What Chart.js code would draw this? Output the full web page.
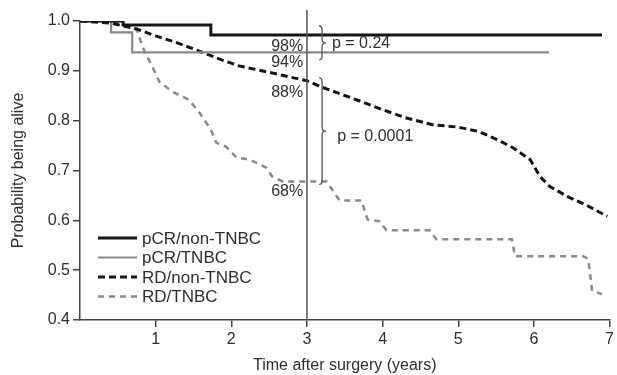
<!DOCTYPE html>
<html>
<head>
<meta charset="utf-8">
<script src="https://cdn.jsdelivr.net/npm/chart.js@4/dist/chart.umd.min.js"></script>
<style>
  html, body { margin: 0; padding: 0; background: #fff; }
  #km { display: block; }
</style>
</head>
<body>
<canvas id="km" width="617" height="375"></canvas>
<script>
// series labels
const seriesNames = ["pCR/non-TNBC", "pCR/TNBC", "RD/non-TNBC", "RD/TNBC"];

// pCR/non-TNBC (step curve)
const pcrNonT_x = [0, 0.57, 1.73, 6.9];
const pcrNonT_y = [1.0, 0.992, 0.972, 0.972];

// pCR/TNBC (step curve)
const pcrT_x = [0, 0.41, 0.69, 6.2];
const pcrT_y = [1.0, 0.977, 0.937, 0.937];

// RD/non-TNBC
const rdNonT_x = [0, 0.4, 0.75, 1.0, 1.25, 1.5, 1.87, 2.1, 2.5, 3.0, 3.2, 3.6, 4.0, 4.3, 4.66, 5.0, 5.28, 5.5, 5.72, 5.95, 6.08, 6.21, 6.44, 6.7, 6.97];
const rdNonT_y = [1.0, 0.996, 0.984, 0.97, 0.958, 0.944, 0.922, 0.91, 0.897, 0.88, 0.867, 0.845, 0.822, 0.806, 0.792, 0.787, 0.778, 0.763, 0.746, 0.722, 0.688, 0.668, 0.648, 0.63, 0.608];

// RD/TNBC
const rdT_x = [0, 0.4, 0.65, 0.75, 0.85, 0.95, 1.05, 1.22, 1.44, 1.58, 1.73, 1.8, 1.93, 2.07, 2.24, 2.46, 2.54, 2.68, 3.26, 3.43, 3.72, 3.8, 3.96, 4.05, 4.62, 4.71, 5.71, 5.75, 6.65, 6.72, 6.77, 6.9];
const rdT_y = [1.0, 0.998, 0.99, 0.982, 0.94, 0.91, 0.878, 0.858, 0.842, 0.816, 0.782, 0.756, 0.748, 0.726, 0.722, 0.706, 0.688, 0.678, 0.678, 0.64, 0.64, 0.602, 0.598, 0.58, 0.58, 0.562, 0.562, 0.528, 0.528, 0.522, 0.458, 0.452];

// survival at 3 years, and p values
const pctLabels = ["98%", "94%", "88%", "68%"];
const pctLabelY = [0.948, 0.917, 0.856, 0.658];
const pValues = ["p = 0.24", "p = 0.0001"];

const markYear = 3;

function toPoints(xs, ys) {
  let pts = [];
  for (let i = 0; i < xs.length; i++) pts.push({ x: xs[i], y: ys[i] });
  return pts;
}

const BLACK = "#161616";
const GREY = "#8a8a8a";
const TXT = "#2e2e2e";
const FONT = "'Liberation Sans', Arial, sans-serif";

// draws the 3-year line, % labels, braces, p values and the legend
const annotations = {
  id: "annotations",
  afterDatasetsDraw(chart) {
    const ctx = chart.ctx;
    const xs = chart.scales.x, ys = chart.scales.y;
    ctx.save();

    // vertical line at 3 years
    const vx = xs.getPixelForValue(markYear);
    ctx.strokeStyle = "#555";
    ctx.lineWidth = 1.5;
    ctx.beginPath();
    ctx.moveTo(vx, ys.getPixelForValue(1.022));
    ctx.lineTo(vx, ys.getPixelForValue(0.4));
    ctx.stroke();

    // percentage labels
    ctx.fillStyle = TXT;
    ctx.font = "16px " + FONT;
    ctx.textAlign = "right";
    ctx.textBaseline = "middle";
    for (let i = 0; i < pctLabels.length; i++)
      ctx.fillText(pctLabels[i], xs.getPixelForValue(2.95), ys.getPixelForValue(pctLabelY[i]));

    // braces
    function brace(xv, yTop, yBot) {
      const x = xs.getPixelForValue(xv);
      const t = ys.getPixelForValue(yTop), b = ys.getPixelForValue(yBot);
      const m = (t + b) / 2;
      ctx.beginPath();
      ctx.moveTo(x - 3, t);
      ctx.quadraticCurveTo(x, t, x, t + 4);
      ctx.lineTo(x, m - 4);
      ctx.quadraticCurveTo(x, m, x + 4, m);
      ctx.quadraticCurveTo(x, m, x, m + 4);
      ctx.lineTo(x, b - 4);
      ctx.quadraticCurveTo(x, b, x - 3, b);
      ctx.stroke();
    }
    ctx.strokeStyle = "#555";
    ctx.lineWidth = 1.3;
    brace(3.2, 0.99, 0.922);
    brace(3.2, 0.886, 0.672);

    ctx.textAlign = "left";
    ctx.fillText(pValues[0], xs.getPixelForValue(3.33), ys.getPixelForValue(0.954));
    ctx.fillText(pValues[1], xs.getPixelForValue(3.4), ys.getPixelForValue(0.768));

    // legend
    const ca = chart.chartArea;
    let lx = ca.left + 18, ly = ca.top + 217;
    ctx.font = "17px " + FONT;
    chart.data.datasets.forEach((ds, i) => {
      const y = ly + i * 19.5;
      ctx.strokeStyle = ds.borderColor;
      ctx.lineWidth = ds.borderWidth;
      ctx.setLineDash(ds.borderDash || []);
      ctx.beginPath();
      ctx.moveTo(lx, y);
      ctx.lineTo(lx + 39, y);
      ctx.stroke();
      ctx.setLineDash([]);
      ctx.fillStyle = TXT;
      ctx.fillText(ds.label, lx + 44, y + 1);
    });
    ctx.restore();
  }
};

new Chart(document.getElementById("km"), {
  type: "line",
  data: {
    datasets: [
      { label: seriesNames[0], data: toPoints(pcrNonT_x, pcrNonT_y), borderColor: BLACK, borderWidth: 3, stepped: true },
      { label: seriesNames[1], data: toPoints(pcrT_x, pcrT_y), borderColor: GREY, borderWidth: 2.2, stepped: true },
      { label: seriesNames[2], data: toPoints(rdNonT_x, rdNonT_y), borderColor: BLACK, borderWidth: 3, borderDash: [7, 4] },
      { label: seriesNames[3], data: toPoints(rdT_x, rdT_y), borderColor: GREY, borderWidth: 2.5, borderDash: [6, 5] }
    ]
  },
  options: {
    responsive: false,
    animation: false,
    layout: { padding: { top: 21, right: 7, left: 0, bottom: 0 } },
    elements: { point: { radius: 0 }, line: { tension: 0, fill: false } },
    plugins: { legend: { display: false }, tooltip: { enabled: false } },
    scales: {
      x: {
        type: "linear", min: 0, max: 7,
        afterFit: (s) => { s.height = 55; },
        afterBuildTicks: (s) => { s.ticks = s.ticks.filter(t => t.value > 0); },
        ticks: { stepSize: 1, color: TXT, font: { size: 16, family: FONT }, padding: 3, maxRotation: 0 },
        grid: { drawOnChartArea: false, tickLength: 7, color: "#444", lineWidth: 1.5 },
        border: { color: "#444", width: 1.5 },
        title: { display: true, text: "Time after surgery (years)", color: TXT, font: { size: 16, family: FONT }, padding: { top: 0, bottom: 0 } }
      },
      y: {
        min: 0.4, max: 1.0,
        afterFit: (s) => { s.width = 80; },
        ticks: { stepSize: 0.1, color: TXT, font: { size: 16, family: FONT }, padding: 3, callback: (v) => v.toFixed(1) },
        grid: { drawOnChartArea: false, tickLength: 7, color: "#444", lineWidth: 1.5 },
        border: { color: "#444", width: 1.5 },
        title: { display: true, text: "Probability being alive", color: TXT, font: { size: 16, family: FONT }, padding: { top: 9, bottom: 9 } }
      }
    }
  },
  plugins: [annotations]
});
</script>
</body>
</html>
